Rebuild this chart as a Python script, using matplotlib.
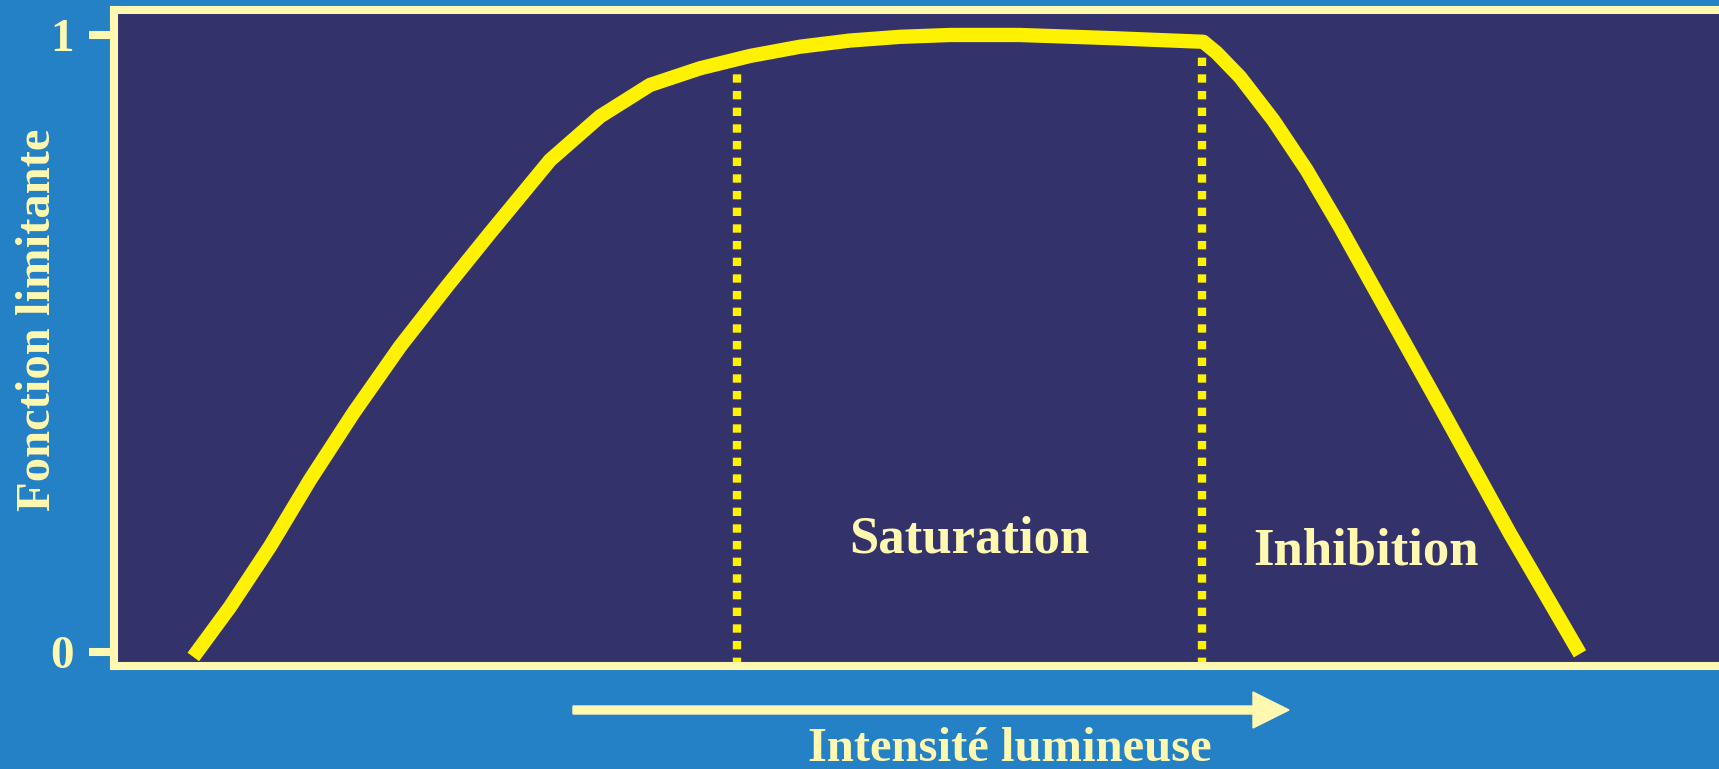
import matplotlib
matplotlib.use("Agg")
import matplotlib.pyplot as plt
import matplotlib.patches as mpatches
from matplotlib.transforms import IdentityTransform
import numpy as np

# Colours
bg_blue = "#2581C5"
panel = "#33326B"
cream = "#FFF8B0"
yellow = "#FFF200"

# Curve (intensity in arbitrary units, limiting function 0..1)
intensity = [7.93, 11.6, 15.6, 19.6, 23.93, 28.6, 33.27, 37.6, 43.6, 48.6, 53.6,
             58.6, 63.6, 68.6, 73.6, 78.6, 83.6, 90.6, 99.6, 108.93, 110.27, 112.6,
             115.93, 119.27, 122.6, 125.93, 129.27, 132.6, 135.93, 139.6, 146.6]
limiting = [-0.008, 0.073, 0.171, 0.279, 0.387, 0.495, 0.592, 0.679, 0.797, 0.868, 0.919,
            0.946, 0.966, 0.981, 0.991, 0.997, 1.0, 1.0, 0.995, 0.989, 0.971, 0.932,
            0.862, 0.781, 0.689, 0.592, 0.495, 0.398, 0.300, 0.192, -0.003]

# Zone boundaries (start of saturation, start of inhibition)
boundaries = [62.3, 108.75]

zone_labels = ["Saturation", "Inhibition"]
zone_label_x = [85.55, 125.2]
zone_label_y = [0.1605, 0.141]

ytick_values = [0, 1]
ytick_labels = ["0", "1"]

serif = ["Liberation Serif", "DejaVu Serif"]

W, H = 1719, 769
fig = plt.figure(figsize=(W / 100, H / 100), dpi=100, facecolor=bg_blue)

ax_left = 114 / W
ax_bottom = (H - 666) / H
ax_top = (H - 10) / H
ax = fig.add_axes([ax_left, ax_bottom, 1 - ax_left, ax_top - ax_bottom])
ax.set_facecolor(panel)
ax.set_xlim(0, (W - 114) / 10)
ax.set_ylim(-0.0227, 1.0405)

for side in ["left", "bottom", "top"]:
    ax.spines[side].set_color(cream)
    ax.spines[side].set_linewidth(5.8)
ax.spines["right"].set_visible(False)

# Dotted zone boundaries, from the x axis up to the curve
ymin = ax.get_ylim()[0]
for bx in boundaries:
    top = np.interp(bx, intensity, limiting)
    ax.plot([bx, bx], [ymin, top - 0.02], color=yellow, lw=6,
            dashes=(1, 1), solid_capstyle="butt", dash_capstyle="butt", zorder=2)

# Main curve
ax.plot(intensity, limiting, color=yellow, lw=10.3, solid_capstyle="butt",
        solid_joinstyle="round", zorder=3)

for lab, lx, ly in zip(zone_labels, zone_label_x, zone_label_y):
    ax.text(lx, ly, lab, ha="center", va="baseline", fontsize=38,
            fontweight="bold", family=serif, color=cream, zorder=4)

ax.set_xticks([])
ax.set_yticks(ytick_values)
ax.set_yticklabels(ytick_labels, family=serif, fontweight="bold", fontsize=34, color=cream)
ax.tick_params(axis="y", length=18, width=5.8, color=cream, pad=10.8)

# Axis titles
fig.text(50 / W, 1 - 320 / H, "Fonction limitante", rotation=90, rotation_mode="anchor",
         ha="center", va="baseline", fontsize=35, fontweight="bold", family=serif, color=cream)
fig.text(1010 / W, 8 / H, "Intensité lumineuse", ha="center", va="baseline",
         fontsize=35, fontweight="bold", family=serif, color=cream)

# Arrow along the intensity axis (display pixels)
arrow = mpatches.FancyArrow(573, H - 710, 1289 - 573, 0, width=8, head_width=36,
                            head_length=36, length_includes_head=True,
                            color=cream, transform=IdentityTransform())
fig.add_artist(arrow)

fig.savefig("out.png", dpi=100, facecolor=bg_blue)
